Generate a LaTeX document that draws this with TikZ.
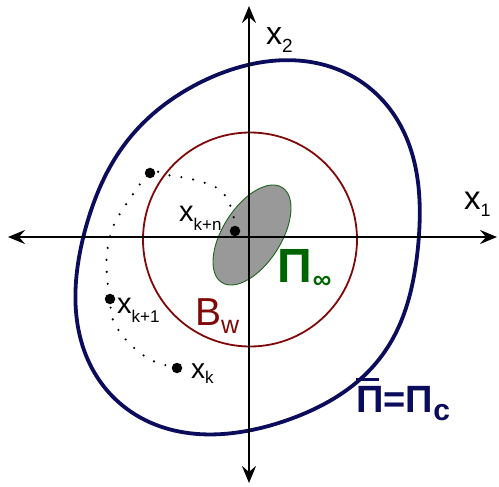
\documentclass[tikz,border=0pt]{standalone}
\usepackage{fontspec}
\setmainfont{Liberation Sans}
\usetikzlibrary{arrows.meta}
\definecolor{navyc}{RGB}{12,12,92}
\definecolor{redc}{RGB}{128,8,8}
\definecolor{greenc}{RGB}{0,100,0}
\definecolor{edgec}{RGB}{30,100,30}
\definecolor{grayc}{RGB}{153,153,153}
\newcommand{\lbl}[5]{{\fontsize{#1}{#1}\selectfont #4}\raisebox{-#3}{\fontsize{#2}{#2}\selectfont #5}}
\tikzset{
  tipst/.tip={Stealth[length=17pt,width=14pt,inset=6pt]},
  axis/.style={line width=2.6pt, tipst-tipst},
  bigdot/.style={circle, fill=black, inner sep=0pt, minimum size=10.5pt},
  lab/.style={inner sep=0pt, anchor=base west},
  declare function={
    blobr(\t)=179.58+0.185*cos(\t)-1.805*sin(\t)-7.2*cos(2*\t)+16.16*sin(2*\t)
            -0.83*cos(3*\t)-2.4*sin(3*\t)-3.83*cos(4*\t)-1.56*sin(4*\t);
  },
}
\begin{document}
\begin{tikzpicture}[x=1pt,y=-1pt]
\useasboundingbox (0,0) rectangle (499,487);
% blue region
\draw[navyc, line width=3.8pt, line join=round] plot[domain=0:360, samples=241, variable=\t]
  ({250+blobr(\t)*cos(\t)}, {248-blobr(\t)*sin(\t)}) -- cycle;
% red ball
\draw[redc, line width=1.8pt] (250,239.5) circle [radius=107];
% green set
\draw[edgec, line width=0.9pt, fill=grayc, rotate around={57.5:(252,235)}] (252,235) ellipse [x radius=56.3, y radius=29.2];
% axes
\coordinate (L) at (8,237);
\coordinate (R) at (497,237);
\coordinate (T) at (249,6);
\coordinate (B) at (249,483);
\draw[axis] (L) -- (R);
\draw[axis] (T) -- (B);
% trajectory
\node[bigdot] (xk) at (177,368) {};
\node[bigdot] (xk1) at (110,299) {};
\node[bigdot] (xa) at (150,173) {};
\node[bigdot] (xkn) at (235,231) {};
\draw[line width=2.4pt, line cap=round, dash pattern=on 0pt off 12pt] plot[smooth, tension=0.6] coordinates {
 (177,368) (151,360) (128,342) (113,320) (110,299) (107,277) (107,253) (113,227)
 (127,203) (150,173) (167,175) (195,180) (220,190) (232,210) (235,231)};
% labels
\node[lab] (lx2) at (266,45) {\lbl{32pt}{19pt}{8pt}{x}{2}};
\node[lab] (lx1) at (464,210) {\lbl{33pt}{18pt}{7pt}{x}{1}};
\node[lab] (lxkn) at (179,222) {\lbl{29pt}{17pt}{9pt}{x}{k+n}};
\node[lab] (lxk1) at (117,313) {\lbl{29pt}{17pt}{9pt}{x}{k+1}};
\node[lab] (lxk) at (191,378) {\lbl{28pt}{17pt}{5pt}{x}{k}};
\node[lab, text=redc] (lbw) at (195,325) {\lbl{39pt}{25pt}{8pt}{B}{w}};
\node[lab, text=greenc, font=\bfseries] (lpinf) at (277,282) {{\fontsize{48pt}{48pt}\selectfont Π}\hspace{1pt}\raisebox{-6pt}{\fontsize{26pt}{26pt}\selectfont ∞}};
\node[lab, text=navyc, font=\bfseries] (lpic) at (356,412) {{\fontsize{38pt}{38pt}\selectfont\rlap{\rule[31.5pt]{23pt}{2.7pt}}Π=Π}\raisebox{-8pt}{\fontsize{30pt}{30pt}\selectfont c}};
\end{tikzpicture}
\end{document}
